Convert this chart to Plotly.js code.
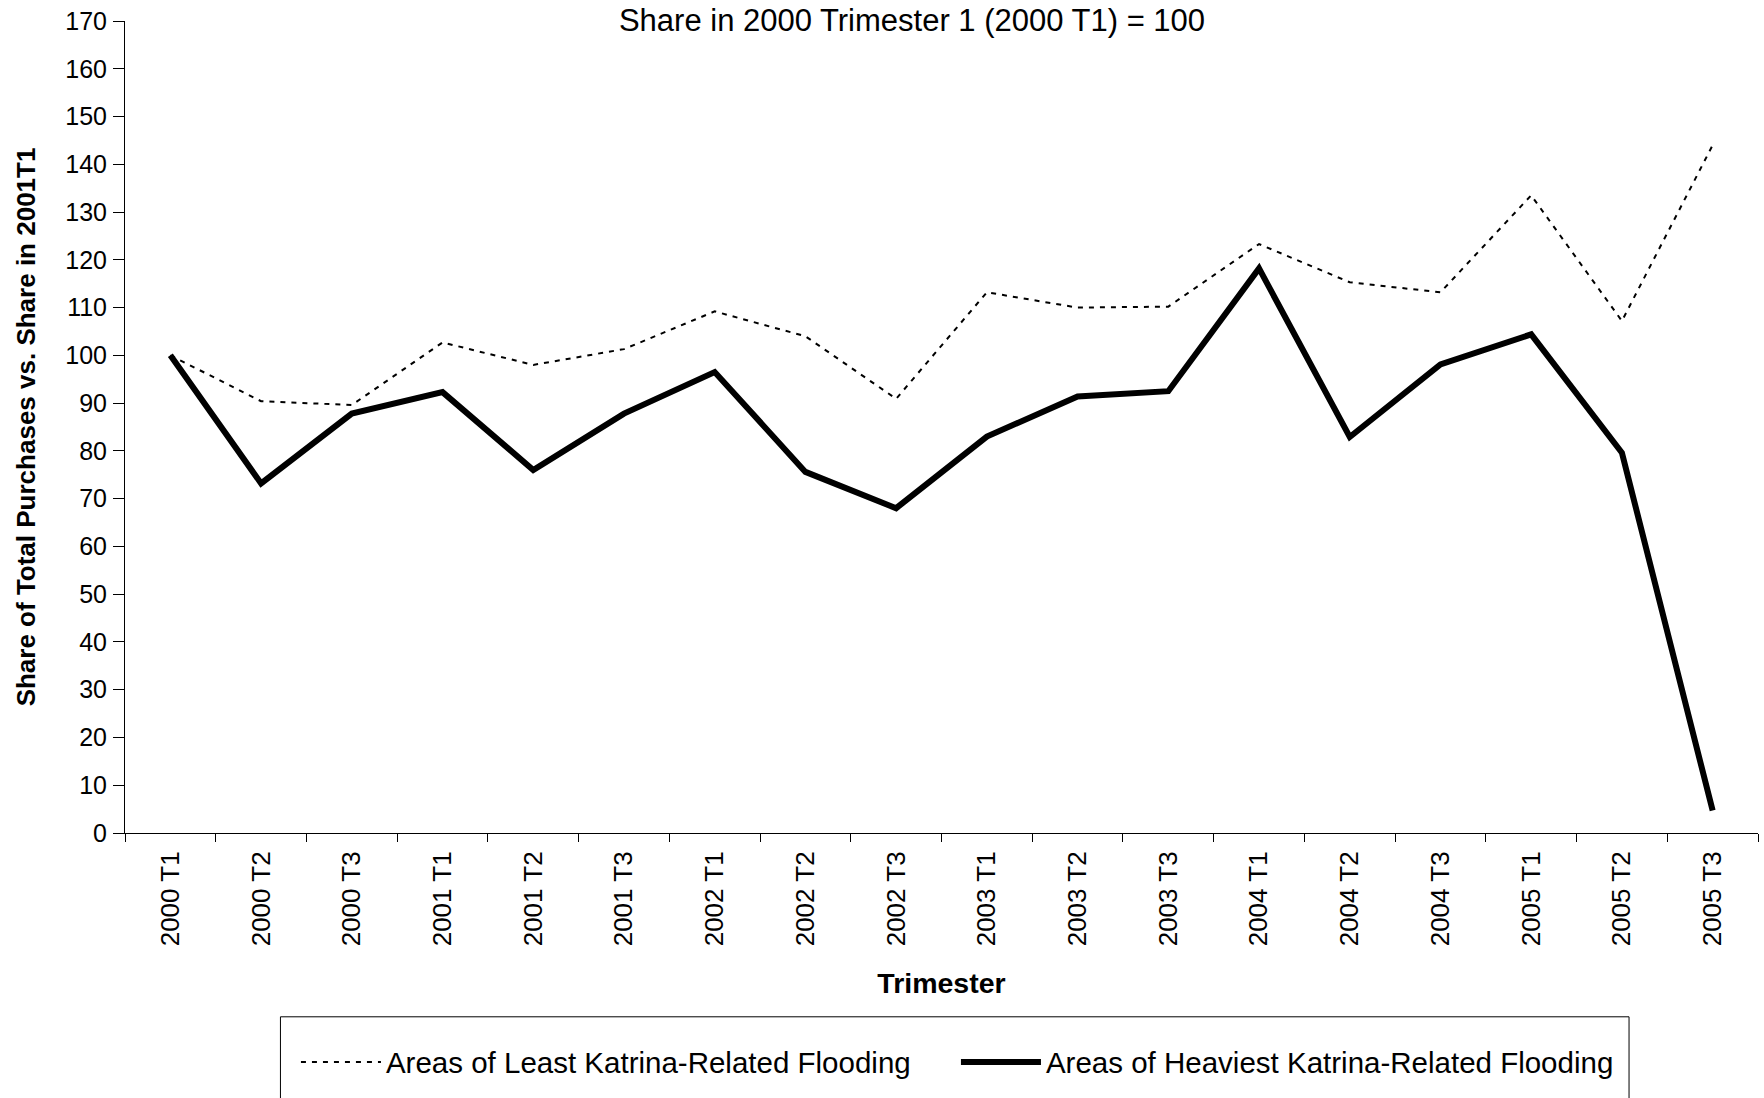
<!DOCTYPE html>
<html>
<head>
<meta charset="utf-8">
<script src="https://cdn.plot.ly/plotly-3.0.1.min.js"></script>
<style>
  html, body { margin: 0; padding: 0; background: #ffffff; }
  #chart { width: 1764px; height: 1098px; }
</style>
</head>
<body>
<div id="chart"></div>
<script>
// ---- data ----
var trimesters = ["2000 T1", "2000 T2", "2000 T3", "2001 T1", "2001 T2", "2001 T3",
                  "2002 T1", "2002 T2", "2002 T3", "2003 T1", "2003 T2", "2003 T3",
                  "2004 T1", "2004 T2", "2004 T3", "2005 T1", "2005 T2", "2005 T3"];
var leastFlooding = [100, 90.4, 89.6, 102.7, 98.0, 101.3, 109.2, 104.0, 90.9, 113.2, 110.0, 110.2,
                     123.3, 115.3, 113.2, 133.5, 107.2, 144.0];
var heaviestFlooding = [100, 73.2, 87.8, 92.3, 76.0, 87.8, 96.5, 75.6, 68.0, 83.0, 91.4, 92.5,
                        118.2, 82.9, 98.1, 104.4, 79.6, 4.7];
var seriesNames = ["Areas of Least Katrina-Related Flooding", "Areas of Heaviest Katrina-Related Flooding"];
var yTickVals = [0, 10, 20, 30, 40, 50, 60, 70, 80, 90, 100, 110, 120, 130, 140, 150, 160, 170];

// ---- layout geometry (pixels) ----
var W = 1764, H = 1098;
var plotL = 125, plotR = 1758.5, plotT = 20.7, plotB = 832.7;
var pw = plotR - plotL, ph = plotB - plotT;
function px2x(p) { return (p - plotL) / pw; }
function px2y(p) { return (plotB - p) / ph; }

var FONT = '"Liberation Sans", Arial, Helvetica, sans-serif';

var traces = [
  {
    x: trimesters, y: leastFlooding, name: seriesNames[0],
    type: 'scatter', mode: 'lines',
    line: { color: '#000000', width: 2, dash: '5px,6px' }
  },
  {
    x: trimesters, y: heaviestFlooding, name: seriesNames[1],
    type: 'scatter', mode: 'lines',
    line: { color: '#000000', width: 6 }
  }
];

var layout = {
  width: W, height: H,
  paper_bgcolor: '#ffffff', plot_bgcolor: '#ffffff',
  font: { family: FONT, color: '#000000', size: 25 },
  margin: { l: plotL, r: W - plotR, t: plotT, b: H - plotB, pad: 0, autoexpand: false },
  title: {
    text: 'Share in 2000 Trimester 1 (2000 T1) = 100',
    font: { family: FONT, size: 31, color: '#000000' },
    xref: 'container', yref: 'container',
    x: 912 / W, xanchor: 'center',
    y: 1 - 20 / H, yanchor: 'middle'
  },
  xaxis: {
    type: 'category',
    categoryorder: 'array', categoryarray: trimesters,
    range: [-0.5, trimesters.length - 0.5],
    showline: true, linecolor: '#000000', linewidth: 1,
    showgrid: false, zeroline: false,
    ticks: 'outside', tickson: 'boundaries', ticklen: 8, tickwidth: 1, tickcolor: '#000000',
    tickangle: -90,
    tickfont: { family: FONT, size: 26, color: '#000000' },
    ticklabelstandoff: 7,
    automargin: false,
    title: { text: 'Trimester', font: { family: FONT, size: 28.5, color: '#000000', weight: 'bold' }, standoff: 27 }
  },
  yaxis: {
    range: [0, 170],
    tickmode: 'array', tickvals: yTickVals,
    showline: true, linecolor: '#000000', linewidth: 1,
    showgrid: false, zeroline: false,
    ticks: 'outside', ticklen: 11, tickwidth: 1, tickcolor: '#000000',
    tickfont: { family: FONT, size: 25, color: '#000000' },
    ticklabelstandoff: 1,
    automargin: false,
    title: { text: 'Share of Total Purchases vs. Share in 2001T1', font: { family: FONT, size: 26, color: '#000000', weight: 'bold' }, standoff: 22 }
  },
  showlegend: true,
  legend: {
    orientation: 'h',
    xref: 'paper', yref: 'paper',
    x: px2x(296), xanchor: 'left',
    y: px2y(1062), yanchor: 'middle',
    font: { family: FONT, size: 29.5, color: '#000000' },
    bgcolor: 'rgba(0,0,0,0)', borderwidth: 0,
    itemwidth: 80,
    entrywidthmode: 'pixels', entrywidth: 565,
    traceorder: 'normal'
  },
  shapes: [
    {
      type: 'rect', xref: 'paper', yref: 'paper',
      x0: px2x(280.5), x1: px2x(1629.5), y0: px2y(1016.5), y1: px2y(1120),
      line: { color: '#000000', width: 1 }, fillcolor: 'rgba(0,0,0,0)', layer: 'below'
    }
  ]
};

Plotly.newPlot('chart', traces, layout, { displayModeBar: false, staticPlot: true });
</script>
</body>
</html>
